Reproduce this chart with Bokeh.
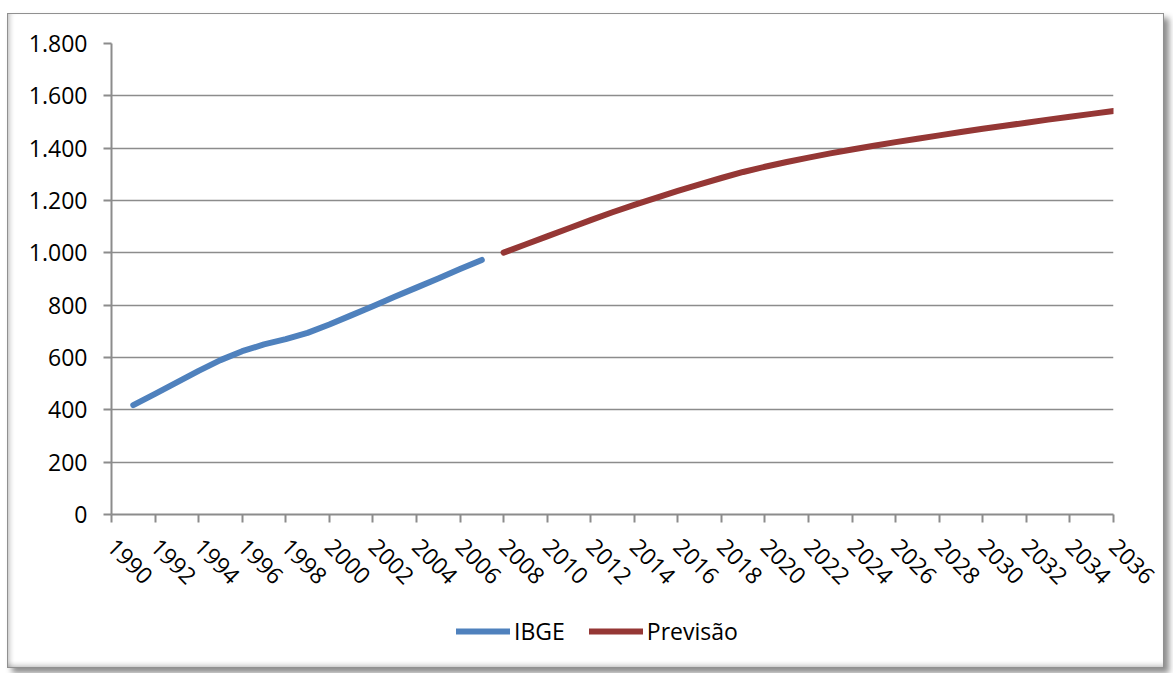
import math

from bokeh.embed import file_html
from bokeh.layouts import column
from bokeh.models import FixedTicker, Legend, LegendItem, Range1d
from bokeh.plotting import figure
from bokeh.resources import INLINE

# Series: IBGE records and the projection that continues them
ibge_years = list(range(1991, 2008))
ibge_values = [418, 461, 505, 549, 590, 624, 650, 670, 694, 726, 761, 796,
               832, 867, 902, 938, 973]

previsao_years = list(range(2008, 2037))
previsao_values = [1001, 1032, 1063, 1094, 1125, 1155, 1183, 1210, 1237, 1262,
                   1286, 1309, 1329, 1347, 1364, 1380, 1395, 1409, 1423, 1436,
                   1449, 1462, 1474, 1486, 1497, 1509, 1520, 1531, 1542]

# Axis ticks and their labels
x_ticks = list(range(1990, 2037, 2))
y_ticks = [0, 200, 400, 600, 800, 1000, 1200, 1400, 1600, 1800]
y_tick_labels = ["0", "200", "400", "600", "800", "1.000", "1.200", "1.400",
                 "1.600", "1.800"]

FONT = "Open Sans"
GRID = "#8c8c8c"
BLUE = "#4f81bd"
RED = "#953735"
LINE_W = 6

# ---- main chart -------------------------------------------------------------
p = figure(width=1155, height=580,
           x_range=Range1d(1990, 2036), y_range=Range1d(0, 1800),
           output_backend="svg", toolbar_location=None,
           min_border_left=103, min_border_right=50,
           min_border_top=29, min_border_bottom=60)

p.outline_line_color = None
p.background_fill_color = "white"
p.border_fill_alpha = 0

p.xgrid.visible = False
p.ygrid.grid_line_color = GRID
p.ygrid.grid_line_width = 1.6
p.ygrid.ticker = FixedTicker(ticks=y_ticks)

for ax in (p.xaxis[0], p.yaxis[0]):
    ax.axis_line_color = GRID
    ax.axis_line_width = 2
    ax.major_tick_line_color = GRID
    ax.major_tick_line_width = 2
    ax.major_tick_in = 0
    ax.major_tick_out = 8
    ax.minor_tick_line_color = None
    ax.major_label_text_font = FONT
    ax.major_label_text_font_size = "23px"
    ax.major_label_text_color = "black"

p.xaxis.ticker = FixedTicker(ticks=x_ticks)
p.xaxis.major_label_orientation = -math.pi / 4
p.xaxis.major_label_standoff = 20

p.yaxis.ticker = FixedTicker(ticks=y_ticks)
p.yaxis.major_label_overrides = dict(zip(y_ticks, y_tick_labels))
p.yaxis.major_label_standoff = 16

p.line(ibge_years, ibge_values, line_color=BLUE, line_width=LINE_W,
       line_cap="round", line_join="round")
p.line(previsao_years, previsao_values, line_color=RED, line_width=LINE_W,
       line_cap="round", line_join="round")

# ---- legend strip under the chart ---------------------------------------------
lg = figure(width=1155, height=73,
            x_range=Range1d(0, 1), y_range=Range1d(0, 1),
            output_backend="svg", toolbar_location=None,
            x_axis_location=None, y_axis_location=None,
            min_border_left=0, min_border_right=0,
            min_border_top=0, min_border_bottom=0)
lg.outline_line_color = None
lg.xgrid.visible = False
lg.ygrid.visible = False
lg.background_fill_alpha = 0
lg.border_fill_alpha = 0

# same series, outside this strip's ranges, only used as legend swatches
sw_ibge = lg.line(ibge_years, ibge_values, line_color=BLUE, line_width=LINE_W,
                  line_cap="round")
sw_prev = lg.line(previsao_years, previsao_values, line_color=RED,
                  line_width=LINE_W, line_cap="round")

legend = Legend(
    items=[LegendItem(label="IBGE", renderers=[sw_ibge]),
           LegendItem(label="Previsão", renderers=[sw_prev])],
    location=(345, 20), orientation="horizontal",
    glyph_width=54, glyph_height=24, label_height=24,
    label_standoff=4, spacing=24, padding=0, margin=0,
    label_text_font=FONT, label_text_font_size="23px",
    label_text_color="black",
    border_line_color=None, background_fill_alpha=0,
)
lg.add_layout(legend, "center")

layout = column(p, lg, spacing=0)

# Chart-area frame: thin grey border, soft inner bevel and a drop shadow
layout.styles = {
    "margin-left": "7px",
    "margin-top": "13px",
    "border": "1px solid #909090",
    "background": "white",
    "box-shadow": ("5px 5px 6px rgba(0,0,0,0.45), "
                   "inset 5px 0 5px -3px rgba(0,0,0,0.22), "
                   "inset 0 -5px 5px -3px rgba(0,0,0,0.22)"),
}

open("out.html", "w").write(file_html(layout, INLINE))
